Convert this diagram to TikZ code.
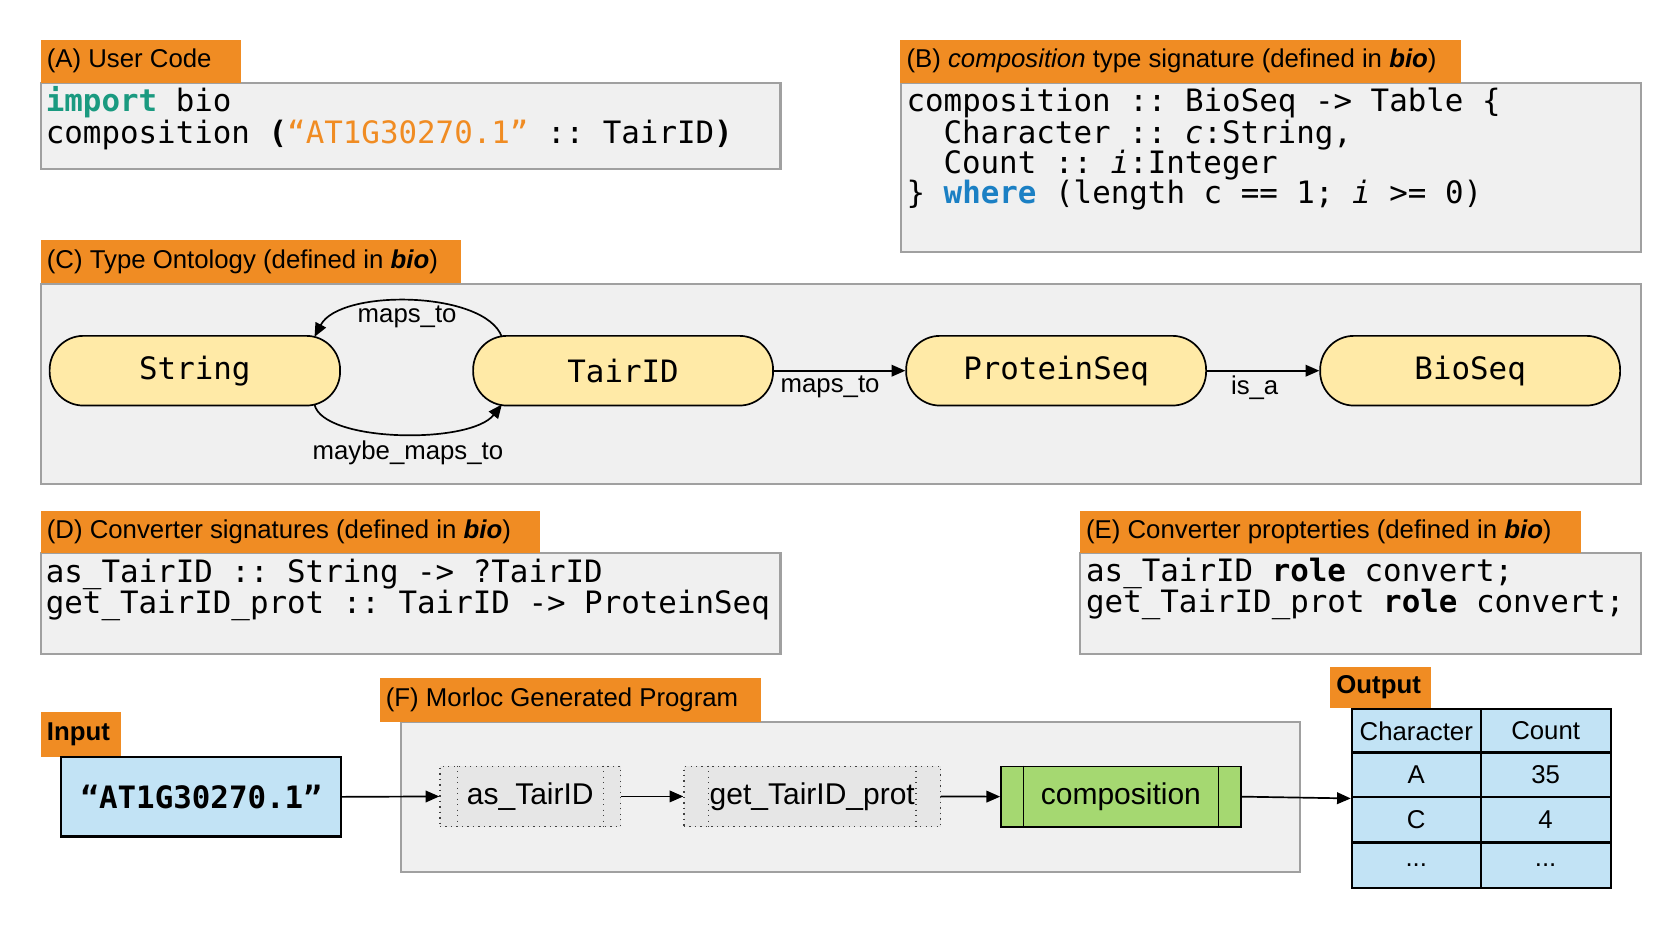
\documentclass[tikz,border=0pt]{standalone}
\usepackage{fontspec}
\setmainfont{Liberation Sans}
\setmonofont{DejaVu Sans Mono}
\usetikzlibrary{arrows.meta}
\definecolor{orng}{HTML}{F08C23}
\definecolor{panelbg}{HTML}{F0F0F0}
\definecolor{panelbd}{HTML}{A0A0A0}
\definecolor{yel}{HTML}{FFEAA7}
\definecolor{lblue}{HTML}{C2E3F5}
\definecolor{lgreen}{HTML}{A5D871}
\definecolor{kwteal}{HTML}{1A9A80}
\definecolor{kwblue}{HTML}{1B80C4}
\definecolor{boxgray}{HTML}{E6E6E6}
\newcommand{\fslab}{\fontsize{12.2}{15}\selectfont}
\newcommand{\fscode}{\ttfamily\fontsize{14.6}{17}\selectfont}
\newcommand{\fsprog}{\fontsize{14.2}{17}\selectfont}
\newcommand{\lbltext}[2]{\makebox[#1][l]{#2}}
\tikzset{
  lbl/.style={fill=orng, anchor=north west, inner xsep=3pt, inner ysep=0pt, font=\fslab, text=black},
  panel/.style={fill=panelbg, draw=panelbd, line width=1pt, anchor=north west, inner sep=0pt},
  code/.style={anchor=base west, inner sep=0pt, font=\fscode},
  typ/.style={draw=black, line width=0.8pt, fill=yel, rounded corners=16pt, minimum height=33pt, font=\fscode, inner sep=0pt},
  arr/.style={line width=0.8pt, -{Triangle[length=6.5pt,width=5.5pt]}},
  elab/.style={font=\fslab, inner sep=1pt},
  conv/.style={draw=black!75, dotted, line width=0.6pt, fill=boxgray, minimum height=28.5pt, anchor=north west, inner sep=0pt, font=\fsprog},
  cell/.style={draw=black, line width=1pt, fill=lblue, minimum height=21.25pt, anchor=north west, inner sep=0pt, font=\fslab},
}
\begin{document}
\begin{tikzpicture}[x=0.5pt, y=-0.5pt]
\fill[white] (0,0) rectangle (1568,879);
\useasboundingbox (0,0) rectangle (1568,879);

% panels
\node[panel, minimum width=350pt, minimum height=40.5pt] (pa) at (38,78) {};
\node[panel, minimum width=350.5pt, minimum height=80pt] (pb) at (852,78) {};
\node[panel, minimum width=757.5pt, minimum height=94.5pt] (pc) at (38,268) {};
\node[panel, minimum width=350pt, minimum height=47.5pt] (pd) at (38,523) {};
\node[panel, minimum width=265.5pt, minimum height=47.5pt] (pe) at (1022,523) {};
\node[panel, minimum width=425.5pt, minimum height=71pt] (pf) at (379,683) {};

% labels
\node[lbl, minimum height=20.5pt] (la) at (38,37) {\lbltext{89pt}{(A) User Code}};
\node[lbl, minimum height=20.5pt] (lb) at (852,37) {\lbltext{259.5pt}{(B) \textit{composition} type signature (defined in \textbf{\textit{bio}})}};
\node[lbl, minimum height=20.5pt] (lc) at (38,227) {\lbltext{193pt}{(C) Type Ontology (defined in \textbf{\textit{bio}})}};
\node[lbl, minimum height=20pt] (ld) at (38,483) {\lbltext{230.5pt}{(D) Converter signatures (defined in \textbf{\textit{bio}})}};
\node[lbl, minimum height=20pt] (le) at (1022,483) {\lbltext{231.5pt}{(E) Converter propterties (defined in \textbf{\textit{bio}})}};
\node[lbl, minimum height=20.5pt] (lf) at (359,642) {\lbltext{174.5pt}{(F) Morloc Generated Program}};
\node[lbl, minimum height=21pt] (lin) at (38,674) {\lbltext{32pt}{\textbf{Input}}};
\node[lbl, minimum height=19.5pt] (lout) at (1259,631) {\lbltext{42pt}{\textbf{Output}}};

% (A) code
\node[code] (a1) at (43,106) {{\bfseries\color{kwteal}import} bio};
\node[code] (a2) at (43,135.5) {composition {\bfseries(}{\color{orng}“AT1G30270.1”} :: TairID{\bfseries)}};

% (B) code
\node[code] (b1) at (858,105.7) {composition :: BioSeq -> Table \{};
\node[code] (b2) at (893,135.5) {Character :: {\itshape c}:String,};
\node[code] (b3) at (893,164.2) {Count :: {\itshape i}:Integer};
\node[code] (b4) at (858,192.7) {\} {\bfseries\color{kwblue}where} (length c == 1; {\itshape i} >= 0)};

% (D) code
\node[code] (d1) at (43,552) {as\_TairID :: String -> ?TairID};
\node[code] (d2) at (43,580.5) {get\_TairID\_prot :: TairID -> ProteinSeq};

% (E) code
\node[code] (e1) at (1028,551) {as\_TairID {\bfseries role} convert;};
\node[code] (e2) at (1028,580) {get\_TairID\_prot {\bfseries role} convert;};

% (C) ontology
\node[typ, minimum width=137.5pt] (str) at (184.5,351) {String};
\node[typ, minimum width=142pt] (tid) at (590,351) {TairID};
\node[typ, minimum width=142pt] (pro) at (1000,351) {ProteinSeq};
\node[typ, minimum width=142pt] (bio) at (1392,351) {BioSeq};

\draw[arr] ([xshift=14pt,yshift=16pt]tid.west) .. controls +(-8pt,22pt) and +(12pt,23pt) .. ([xshift=-12.5pt,yshift=16pt]str.east)
  node[elab, midway, below=1pt, xshift=-2pt] (l1) {maps\_to};
\draw[arr] ([xshift=-12.5pt,yshift=-16pt]str.east) .. controls +(4pt,-18pt) and +(-15pt,-19pt) .. ([xshift=14pt,yshift=-16pt]tid.west)
  node[elab, midway, below=2pt, xshift=4pt] (l2) {maybe\_maps\_to};
\draw[arr] (tid.east) -- (pro.west) node[elab, midway, below=1pt, xshift=-4.5pt] (l3) {maps\_to};
\draw[arr] (pro.east) -- (bio.west) node[elab, midway, below=1pt, xshift=-4pt] (l4) {is\_a};

% (F) program
\node[draw=black, line width=1pt, fill=lblue, anchor=north west, minimum width=132.5pt, minimum height=37.5pt, inner sep=0pt, font=\fscode\bfseries] (inp) at (57,716) {“AT1G30270.1”};

\node[conv, minimum width=85.5pt] (as) at (416,725) {as\_TairID};
\node[conv, minimum width=121.5pt] (get) at (647,725) {get\_TairID\_prot};
\node[draw=black, line width=0.8pt, fill=lgreen, anchor=north west, minimum width=113.5pt, minimum height=28.5pt, inner sep=0pt, font=\fsprog] (comp) at (947,725) {composition};

\draw[black!75, dotted, line width=0.6pt] ([xshift=8.5pt]as.north west) -- ([xshift=8.5pt]as.south west);
\draw[black!75, dotted, line width=0.6pt] ([xshift=-8.5pt]as.north east) -- ([xshift=-8.5pt]as.south east);
\draw[black!75, dotted, line width=0.6pt] ([xshift=12pt]get.north west) -- ([xshift=12pt]get.south west);
\draw[black!75, dotted, line width=0.6pt] ([xshift=-12pt]get.north east) -- ([xshift=-12pt]get.south east);
\draw[black, line width=0.8pt] ([xshift=11pt]comp.north west) -- ([xshift=11pt]comp.south west);
\draw[black, line width=0.8pt] ([xshift=-11pt]comp.north east) -- ([xshift=-11pt]comp.south east);

% output table
\node[cell, minimum width=61pt] (c11) at (1279,670) {Character};
\node[cell, minimum width=61.5pt] (c12) at (1401,670) {Count};
\node[cell, minimum width=61pt] (c21) at (1279,711.5) {A};
\node[cell, minimum width=61.5pt] (c22) at (1401,711.5) {35};
\node[cell, minimum width=61pt] (c31) at (1279,753.5) {C};
\node[cell, minimum width=61.5pt] (c32) at (1401,753.5) {4};
\node[cell, minimum width=61pt] (c41) at (1279,797) {...};
\node[cell, minimum width=61.5pt] (c42) at (1401,797) {...};

\draw[arr] (inp.east) -- (as.west);
\draw[arr] (as.east) -- (get.west);
\draw[arr] (get.east) -- (comp.west);
\draw[arr] (comp.east) -- (c21.south west);
\end{tikzpicture}
\end{document}
